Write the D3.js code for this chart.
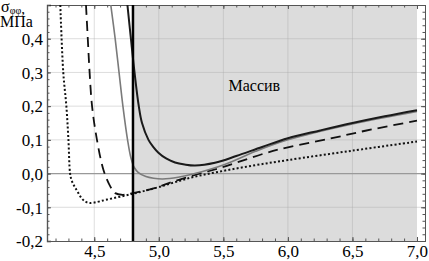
<!DOCTYPE html>
<html>
<head>
<meta charset="utf-8">
<script src="https://cdn.jsdelivr.net/npm/d3@7"></script>
<style>
    body { margin: 0; background: #fff; }
    svg { display: block; font-family: "Liberation Serif", "DejaVu Serif", serif; }
    svg text { font-family: "Liberation Serif", "DejaVu Serif", serif; }
</style>
</head>
<body>
<div id="chart"></div>
<script>
// curves (radius vs. hoop stress, MPa)
const darkX = [4.757, 4.784, 4.812, 4.845, 4.87, 4.92, 4.955, 4.997, 5.06, 5.126, 5.2, 5.28, 5.435, 5.6, 5.8, 6.0, 6.25, 6.5, 6.75, 7.0];
const darkY = [0.5, 0.4, 0.3, 0.2, 0.15, 0.1, 0.08, 0.062, 0.044, 0.033, 0.027, 0.024, 0.032, 0.052, 0.079, 0.105, 0.128, 0.15, 0.17, 0.188];

const grayX = [4.628, 4.662, 4.692, 4.722, 4.758, 4.785, 4.81, 4.842, 4.9, 4.96, 5.03, 5.15, 5.28, 5.51, 5.75, 6.0, 6.5, 7.0];
const grayY = [0.5, 0.4, 0.3, 0.2, 0.1, 0.045, 0.018, 0.003, -0.009, -0.014, -0.016, -0.011, 0.0, 0.027, 0.066, 0.1, 0.147, 0.184];

const dashX = [4.436, 4.45, 4.464, 4.483, 4.521, 4.572, 4.624, 4.662, 4.72, 4.8, 4.96, 5.11, 5.3, 5.47, 5.63, 5.82, 6.0, 6.33, 6.6, 7.0];
const dashY = [0.5, 0.4, 0.3, 0.2, 0.1, 0.01, -0.038, -0.058, -0.063, -0.058, -0.044, -0.024, -0.002, 0.016, 0.036, 0.06, 0.078, 0.104, 0.127, 0.157];

const dotX = [4.237, 4.26, 4.284, 4.30, 4.313, 4.325, 4.345, 4.37, 4.40, 4.43, 4.46, 4.5, 4.6, 4.8, 5.0, 5.25, 5.5, 5.75, 6.0, 6.5, 7.0];
const dotY = [0.5, 0.3, 0.2, 0.1, 0.0, -0.02, -0.037, -0.053, -0.072, -0.083, -0.087, -0.086, -0.077, -0.06, -0.04, -0.012, 0.008, 0.025, 0.04, 0.068, 0.095];

const xTicks = [4.5, 5.0, 5.5, 6.0, 6.5, 7.0];
const xTickLabels = ["4,5", "5,0", "5,5", "6,0", "6,5", "7,0"];
const yTicks = [-0.2, -0.1, 0.0, 0.1, 0.2, 0.3, 0.4];
const yTickLabels = ["-0,2", "-0,1", "0,0", "0,1", "0,2", "0,3", "0,4"];

const zoneStart = 4.8;   // boundary of the rock mass
const zoneEnd = 7.0;
const zoneLabel = "Массив";

const W = 429, H = 261;
const margin = { top: 5, right: 4, bottom: 20, left: 47 };
const width = W - margin.left - margin.right;
const height = H - margin.top - margin.bottom;

const svg = d3.select("#chart").append("svg")
    .attr("width", W)
    .attr("height", H);

const g = svg.append("g")
    .attr("transform", `translate(${margin.left},${margin.top})`);

const x = d3.scaleLinear().domain([4.134, 7.062]).range([0, width]);
const y = d3.scaleLinear().domain([-0.2, 0.5]).range([height, 0]);

g.append("clipPath").attr("id", "clip")
    .append("rect").attr("width", width).attr("height", height);

// shaded rock mass
g.append("rect")
    .attr("x", x(zoneStart))
    .attr("y", 0)
    .attr("width", x(zoneEnd) - x(zoneStart))
    .attr("height", height)
    .attr("fill", "#dcdcdc");

// grid
g.append("g")
    .selectAll("line")
    .data(xTicks.slice(0, -1))
    .enter().append("line")
    .attr("x1", d => x(d)).attr("x2", d => x(d))
    .attr("y1", 0).attr("y2", height)
    .attr("stroke", "#aaa").attr("stroke-opacity", 0.4);

g.append("g")
    .selectAll("line")
    .data(yTicks.filter(d => d !== 0 && d !== -0.2))
    .enter().append("line")
    .attr("x1", 0).attr("x2", width)
    .attr("y1", d => y(d)).attr("y2", d => y(d))
    .attr("stroke", "#aaa").attr("stroke-opacity", 0.4);

// zero line
g.append("line")
    .attr("x1", 0).attr("x2", width)
    .attr("y1", y(0)).attr("y2", y(0))
    .attr("stroke", "#999").attr("stroke-width", 1.2);

// frame ticks, Mathematica style (inward)
const minorX = d3.range(4.2, 7.05, 0.1).map(d => +d.toFixed(2));
const minorY = d3.range(-0.18, 0.5, 0.02).map(d => +d.toFixed(2));

const axB = g.append("g").attr("transform", `translate(0,${height})`)
    .call(d3.axisBottom(x).tickValues(xTicks).tickSize(-4).tickFormat((d, i) => xTickLabels[i]));
const axBm = g.append("g").attr("transform", `translate(0,${height})`)
    .call(d3.axisBottom(x).tickValues(minorX).tickSize(-2.5).tickFormat(""));
const axT = g.append("g")
    .call(d3.axisTop(x).tickValues(xTicks).tickSize(-4).tickFormat(""));
const axTm = g.append("g")
    .call(d3.axisTop(x).tickValues(minorX).tickSize(-2.5).tickFormat(""));
const axL = g.append("g")
    .call(d3.axisLeft(y).tickValues(yTicks).tickSize(-4).tickFormat((d, i) => yTickLabels[i]));
const axLm = g.append("g")
    .call(d3.axisLeft(y).tickValues(minorY).tickSize(-2.5).tickFormat(""));
const axR = g.append("g").attr("transform", `translate(${width},0)`)
    .call(d3.axisRight(y).tickValues(yTicks).tickSize(-4).tickFormat(""));
const axRm = g.append("g").attr("transform", `translate(${width},0)`)
    .call(d3.axisRight(y).tickValues(minorY).tickSize(-2.5).tickFormat(""));

[axB, axBm, axT, axTm, axL, axLm, axR, axRm].forEach(a => {
    a.attr("font-family", null).attr("font-size", null);
    a.selectAll("path.domain").attr("stroke", "#555");
    a.selectAll(".tick line").attr("stroke", "#555");
});
axT.selectAll("path.domain").attr("stroke", "#888");
axL.selectAll("path.domain").attr("stroke", "#333").attr("stroke-width", 1.3);
axB.selectAll("text")
    .style("font-size", "17px")
    .attr("fill", "#000")
    .attr("y", 2)
    .attr("dy", "0.8em");
axL.selectAll("text")
    .style("font-size", "17px")
    .attr("fill", "#000")
    .attr("x", -4)
    .attr("dy", "0.34em");

// curves
const line = d3.line()
    .x(d => x(d[0]))
    .y(d => y(d[1]))
    .curve(d3.curveCatmullRom.alpha(0.5));

const curves = g.append("g").attr("clip-path", "url(#clip)");

curves.append("path")
    .datum(d3.zip(dotX, dotY))
    .attr("d", line)
    .attr("fill", "none")
    .attr("stroke", "#111")
    .attr("stroke-width", 2)
    .attr("stroke-dasharray", "2,2.2");

curves.append("path")
    .datum(d3.zip(dashX, dashY))
    .attr("d", line)
    .attr("fill", "none")
    .attr("stroke", "#111")
    .attr("stroke-width", 1.8)
    .attr("stroke-dasharray", "10,6");

curves.append("path")
    .datum(d3.zip(grayX, grayY))
    .attr("d", line)
    .attr("fill", "none")
    .attr("stroke", "#7a7a7a")
    .attr("stroke-width", 1.6);

curves.append("path")
    .datum(d3.zip(darkX, darkY))
    .attr("d", line)
    .attr("fill", "none")
    .attr("stroke", "#1a1a1a")
    .attr("stroke-width", 2);

// boundary line
g.append("line")
    .attr("x1", x(zoneStart)).attr("x2", x(zoneStart))
    .attr("y1", 0).attr("y2", height)
    .attr("stroke", "#000").attr("stroke-width", 2.5);

// zone label
g.append("text")
    .attr("x", x(5.74))
    .attr("y", y(0.245))
    .attr("text-anchor", "middle")
    .style("font-size", "16px")
    .attr("fill", "#000")
    .text(zoneLabel);

// y axis title
const title = svg.append("text")
    .attr("x", 1)
    .attr("y", 12)
    .attr("fill", "#000");
title.append("tspan").style("font-size", "16px").text("σ");
title.append("tspan").style("font-size", "10px").attr("dy", 2).text("φφ");
title.append("tspan").style("font-size", "15px").text(",");

svg.append("text")
    .attr("x", 0)
    .attr("y", 27)
    .style("font-size", "16px")
    .attr("fill", "#000")
    .text("МПа");
</script>
</body>
</html>
